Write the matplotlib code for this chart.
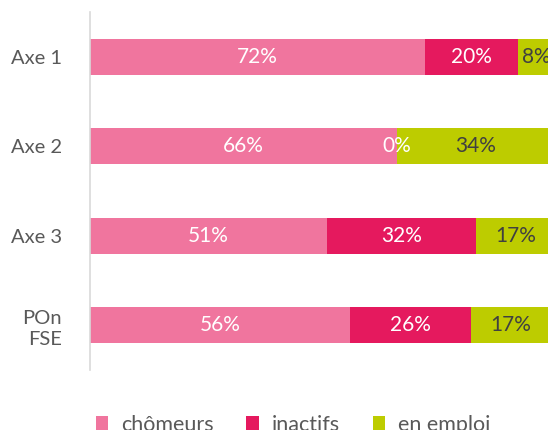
import matplotlib.pyplot as plt

# data
categories = ["Axe 1", "Axe 2", "Axe 3", "POn\nFSE"]
chomeurs = [72, 66, 51, 56]
inactifs = [20, 0, 32, 26]
en_emploi = [8, 34, 17, 17]
series_names = ["chômeurs", "inactifs", "en emploi"]
colors = ["#F0759E", "#E5195E", "#BDCC00"]
label_colors = ["white", "white", "#404040"]

plt.rcParams['font.family'] = ['Lato', 'DejaVu Sans']

fig = plt.figure(figsize=(5.48, 4.30), dpi=100)
# the plot area runs past the right edge, as in the original crop
ax = fig.add_axes([0.164, 0.1395, 0.8485, 0.8325])

series = [chomeurs, inactifs, en_emploi]
y = list(range(len(categories)))
left = [0] * len(categories)
for name, vals, col, lc in zip(series_names, series, colors, label_colors):
    bars = ax.barh(y, vals, left=left, height=0.4, color=col, label=name)
    for i, v in enumerate(vals):
        ax.text(left[i] + v / 2, y[i], f"{v}%", ha='center', va='center',
                color=lc, fontsize=15)
    left = [l + v for l, v in zip(left, vals)]

ax.set_xlim(0, 100)
ax.set_ylim(3.5, -0.5)
ax.set_yticks(y)
ax.set_yticklabels(categories, fontsize=14.5, color='#595959', linespacing=1.3)
ax.tick_params(axis='y', length=0, pad=20)
ax.set_xticks([])
for s in ['top', 'right', 'bottom']:
    ax.spines[s].set_visible(False)
ax.spines['left'].set_color('#D9D9D9')
ax.spines['left'].set_linewidth(1.2)

fig.legend(loc='center', bbox_to_anchor=(0.535, 0.012), ncol=3, frameon=False,
           fontsize=15.5, handlelength=0.6, handleheight=0.6,
           columnspacing=1.5, handletextpad=0.6, labelcolor='#595959')

fig.savefig("out.png", dpi=100)
